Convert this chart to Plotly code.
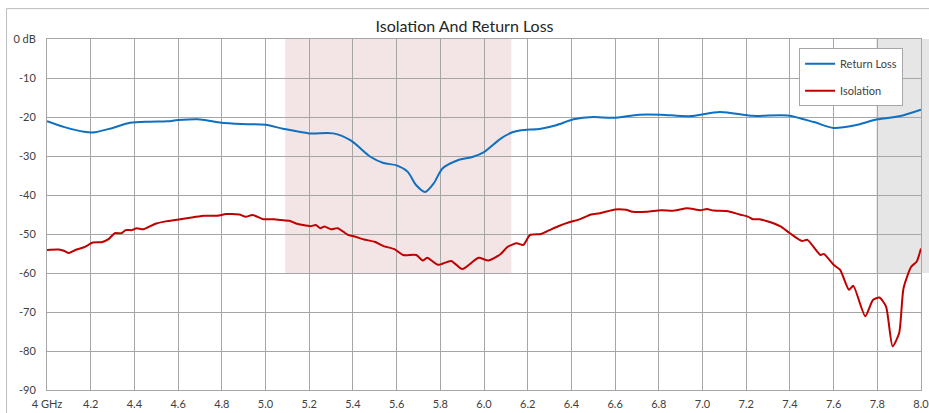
import plotly.graph_objects as go

# Return Loss (blue)
rl_freq = [4.00, 4.08, 4.17, 4.22, 4.30, 4.38, 4.47, 4.55, 4.60, 4.69, 4.79, 4.89, 5.00,
           5.08, 5.20, 5.31, 5.39, 5.48, 5.54, 5.60, 5.65, 5.69, 5.73, 5.77, 5.81, 5.88,
           5.95, 6.00, 6.075, 6.13, 6.17, 6.26, 6.33, 6.41, 6.50, 6.59, 6.71, 6.81, 6.94,
           7.08, 7.23, 7.39, 7.51, 7.60, 7.70, 7.80, 7.90, 8.00]
rl_db = [-21.1, -22.6, -23.8, -23.9, -22.8, -21.5, -21.2, -21.1, -20.8, -20.6, -21.4, -21.8, -22.0,
         -23.0, -24.2, -24.2, -26.0, -30.2, -31.8, -32.4, -34.0, -37.5, -39.2, -37.0, -33.2, -31.1,
         -30.2, -29.0, -25.6, -23.9, -23.4, -23.0, -22.1, -20.6, -20.0, -20.2, -19.4, -19.4, -19.8,
         -18.7, -19.7, -19.6, -21.3, -22.8, -22.1, -20.6, -19.8, -18.1]

# Isolation (red)
iso_freq = [4.00, 4.054, 4.077, 4.10, 4.13, 4.17, 4.21, 4.25, 4.28, 4.31, 4.34, 4.36, 4.39, 4.41,
            4.44, 4.50, 4.55, 4.61, 4.67, 4.72, 4.78, 4.82, 4.88, 4.91, 4.94, 4.99, 5.04, 5.07,
            5.11, 5.14, 5.205, 5.23, 5.25, 5.27, 5.30, 5.33, 5.38, 5.40, 5.45, 5.50, 5.54, 5.59,
            5.63, 5.69, 5.72, 5.74, 5.79, 5.85, 5.90, 5.975, 6.02, 6.075, 6.11, 6.15, 6.18, 6.21,
            6.26, 6.30, 6.34, 6.39, 6.44, 6.49, 6.53, 6.60, 6.65, 6.68, 6.745, 6.81, 6.87, 6.93,
            6.99, 7.02, 7.05, 7.11, 7.17, 7.21, 7.23, 7.26, 7.30, 7.355, 7.40, 7.455, 7.48, 7.54,
            7.555, 7.60, 7.63, 7.67, 7.69, 7.745, 7.78, 7.81, 7.84, 7.87, 7.90, 7.92, 7.955, 7.98, 8.00]
iso_db = [-54.1, -54.0, -54.3, -54.9, -54.1, -53.4, -52.2, -52.1, -51.4, -49.8, -49.8, -49.0, -49.0, -48.5,
          -48.8, -47.3, -46.7, -46.2, -45.7, -45.3, -45.3, -44.9, -45.0, -45.6, -45.1, -46.2, -46.2, -46.4,
          -46.6, -47.3, -48.0, -47.7, -48.5, -48.1, -48.8, -48.5, -50.3, -50.5, -51.4, -52.0, -53.1, -53.9,
          -55.4, -55.4, -56.8, -56.1, -57.9, -56.9, -59.0, -56.1, -56.8, -55.2, -53.2, -52.4, -52.8, -50.3,
          -50.0, -49.0, -48.0, -47.0, -46.2, -45.0, -44.7, -43.7, -43.8, -44.3, -44.3, -43.9, -44.0, -43.4,
          -43.9, -43.6, -44.0, -44.1, -45.0, -45.6, -46.2, -46.2, -46.8, -48.0, -49.8, -51.8, -51.5, -55.4,
          -55.1, -57.9, -59.2, -64.3, -63.3, -71.1, -66.9, -66.3, -68.6, -78.8, -75.4, -63.9, -58.4, -57.1, -53.7]

x_tickvals = [4.0, 4.2, 4.4, 4.6, 4.8, 5.0, 5.2, 5.4, 5.6, 5.8, 6.0, 6.2, 6.4, 6.6, 6.8, 7.0,
              7.2, 7.4, 7.6, 7.8, 8.0]
x_ticktext = ["4 GHz", "4.2", "4.4", "4.6", "4.8", "5.0", "5.2", "5.4", "5.6", "5.8", "6.0", "6.2",
              "6.4", "6.6", "6.8", "7.0", "7.2", "7.4", "7.6", "7.8", "8.0"]
y_tickvals = [0, -10, -20, -30, -40, -50, -60, -70, -80, -90]
y_ticktext = ["0 dB", "-10", "-20", "-30", "-40", "-50", "-60", "-70", "-80", "-90"]

band_pink = [5.09, 6.125]
band_gray_start = 7.795

fig = go.Figure()
fig.add_trace(go.Scatter(x=rl_freq, y=rl_db, mode="lines", name="Return Loss",
                         legendgroup="a",
                         line=dict(color="#0f6fc0", width=2, shape="spline", smoothing=0.8)))
fig.add_trace(go.Scatter(x=iso_freq, y=iso_db, mode="lines", name="Isolation",
                         legendgroup="b",
                         line=dict(color="#c00000", width=2, shape="spline", smoothing=0.6)))

shapes = [
    dict(type="rect", xref="x", yref="y", x0=band_pink[0], x1=band_pink[1], y0=-60, y1=0,
         fillcolor="#f3e5e5", line=dict(width=0), layer="below"),
    dict(type="rect", xref="x", yref="y", x0=band_gray_start, x1=8.04, y0=-60, y1=0,
         fillcolor="#e6e6e6", line=dict(width=0), layer="below"),
    dict(type="rect", xref="paper", yref="paper", x0=1.0, x1=1.0095, y0=1 / 3, y1=1.0,
         fillcolor="#e6e6e6", line=dict(width=0), layer="below"),
    dict(type="rect", xref="paper", yref="paper", x0=-0.0463, x1=1.05, y0=-0.2, y1=1.0866,
         fillcolor="rgba(0,0,0,0)", line=dict(color="#bcbcbc", width=1), layer="above"),
]

fig.update_layout(
    width=929, height=413,
    margin=dict(l=47, r=8, t=39, b=23),
    paper_bgcolor="white", plot_bgcolor="white",
    font=dict(family="Lato, 'Open Sans', sans-serif", size=11, color="#404040"),
    title=dict(text="Isolation And Return Loss", x=0.5, xanchor="center", y=0.935, yanchor="middle",
               font=dict(size=16, color="#262626")),
    shapes=shapes,
    showlegend=True,
    legend=dict(x=0.8605, y=0.974, xanchor="left", yanchor="top",
                bgcolor="white", bordercolor="#a6a6a6", borderwidth=1,
                font=dict(size=11, color="#404040"), itemwidth=30, tracegroupgap=8,
                traceorder="grouped"),
    xaxis=dict(range=[4, 8], tickvals=x_tickvals, ticktext=x_ticktext, showgrid=True,
               gridcolor="#a6a6a6", gridwidth=1, zeroline=False, showline=True,
               linecolor="#a6a6a6", mirror=True, ticks="", ticklen=0, ticklabelstandoff=4,
               automargin=False, ticklabeloverflow="allow"),
    yaxis=dict(range=[-90, 0], tickvals=y_tickvals, ticktext=y_ticktext, showgrid=True,
               gridcolor="#a6a6a6", gridwidth=1, zeroline=False, showline=True,
               linecolor="#a6a6a6", mirror=True, ticks="", ticklen=0, ticklabelstandoff=8,
               automargin=False, ticklabeloverflow="allow"),
)

fig.write_html("out.html", config={"displayModeBar": False},
               post_script="document.body.style.margin='0';")
